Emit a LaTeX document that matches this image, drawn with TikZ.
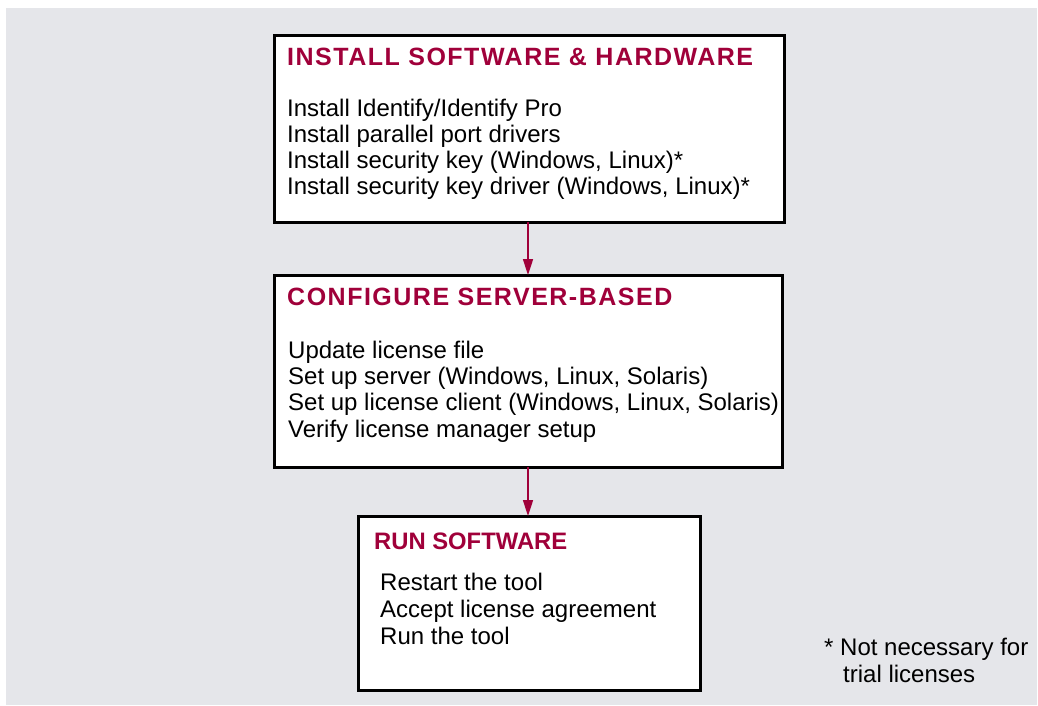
\documentclass[tikz,border=0pt]{standalone}
\usepackage{fontspec}
\setmainfont{Liberation Sans}
\newfontfamily\ttlfont[LetterSpace=6]{Liberation Sans}
\usetikzlibrary{arrows.meta}
\definecolor{bg}{HTML}{E5E6EA}
\definecolor{crim}{HTML}{A0003A}
\tikzset{
  box/.style={draw=black, line width=3pt, fill=white},
  ttl/.style={anchor=base west, inner sep=0pt, text=crim, font=\ttlfont\fontsize{25}{30}\selectfont\bfseries},
  ttlsmall/.style={anchor=base west, inner sep=0pt, text=crim, font=\fontsize{23.8}{28}\selectfont\bfseries},
  txt/.style={anchor=base west, inner sep=0pt, font=\fontsize{24}{28}\selectfont},
  arr/.style={draw=crim, line width=1.6pt, -{Triangle[length=16pt,width=10pt]}}
}
\begin{document}
\begin{tikzpicture}[x=1pt,y=-1pt]
\useasboundingbox (0,0) rectangle (1038,705);
\fill[bg] (6,8) rectangle (1037,705);
\path[box] (274,35) rectangle (784,222);
\path[box] (274,275) rectangle (782,467);
\path[box] (358,516) rectangle (700,690);
\coordinate (b1s) at (528,222);
\coordinate (b2n) at (528,275);
\coordinate (b2s) at (528,467);
\coordinate (b3n) at (528,516);
\draw[arr] (b1s) -- (b2n);
\draw[arr] (b2s) -- (b3n);
\node[ttl] (t1) at (287,65) {INSTALL SOFTWARE \& HARDWARE};
\node[txt] (l11) at (287,116) {Install Identify/Identify Pro};
\node[txt] (l12) at (287,142) {Install parallel port drivers};
\node[txt] (l13) at (287,168) {Install security key (Windows, Linux)*};
\node[txt] (l14) at (287,194) {Install security key driver (Windows, Linux)*};
\node[ttl] (t2) at (287,305) {CONFIGURE SERVER-BASED};
\node[txt] (l21) at (288,358) {Update license file};
\node[txt] (l22) at (288,384) {Set up server (Windows, Linux, Solaris)};
\node[txt] (l23) at (288,410) {Set up license client (Windows, Linux, Solaris)};
\node[txt] (l24) at (288,437) {Verify license manager setup};
\node[ttlsmall] (t3) at (374,549) {RUN SOFTWARE};
\node[txt] (l31) at (380,590) {Restart the tool};
\node[txt] (l32) at (380,617) {Accept license agreement};
\node[txt] (l33) at (380,644) {Run the tool};
\node[txt] (f1) at (824,655) {* Not necessary for};
\node[txt] (f2) at (843,682) {trial licenses};
\end{tikzpicture}
\end{document}
